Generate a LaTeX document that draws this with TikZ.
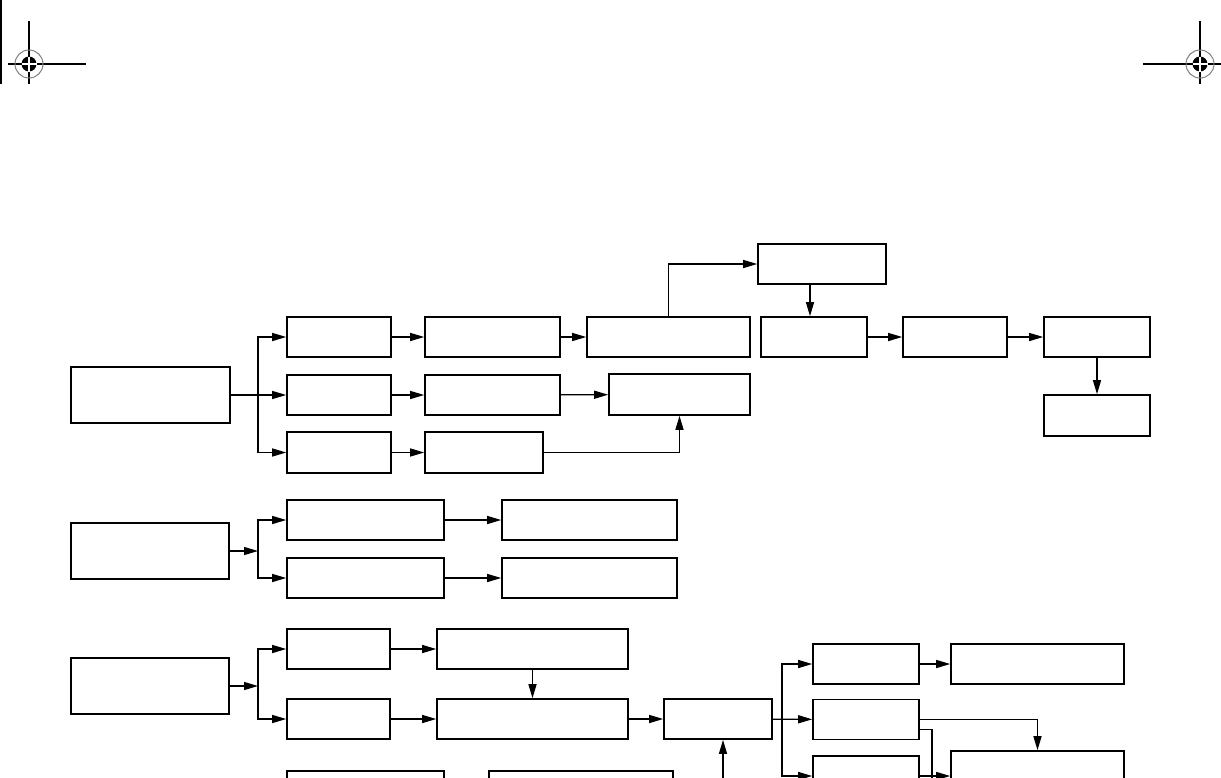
\documentclass[tikz,border=0pt]{standalone}
\usetikzlibrary{arrows.meta}
\begin{document}
\begin{tikzpicture}[x=0.5pt, y=-0.5pt, ->, >={Triangle[length=7pt,width=4pt]}, line width=0.65pt]
        \tikzstyle{block} = [rectangle, draw=black, line width=0.8pt, inner sep=0pt, minimum height=20pt]
        \clip[-] (0,0) rectangle (1221,777);

        % registration marks
        \draw[-] (1,0) -- (1,84);
        \foreach \cx/\dir in {29/1, 1200/-1} {
                \draw[-] (\cx-21*\dir,64) -- (\cx+57*\dir,64) (\cx,21) -- (\cx,84);
                \draw[-, gray, line width=0.5pt] (\cx,64) circle (14);
                \fill (\cx,64) circle (7.5);
                \draw[-, white] (\cx-7.5,64) -- (\cx+7.5,64) (\cx,56.5) -- (\cx,71.5);
        }

        % first group
        \node[block, minimum width=79.5pt, minimum height=28pt] (L1) at (150.5,395) {};
        \node[block, minimum width=64pt] (T) at (822,264) {};
        \node[block, minimum width=52pt] (A1) at (339,337) {};
        \node[block, minimum width=67.5pt] (A2) at (492.5,337) {};
        \node[block, minimum width=81.5pt] (A3) at (668.5,337) {};
        \node[block, minimum width=53pt] (A4) at (814,337) {};
        \node[block, minimum width=52pt] (A5) at (955,337) {};
        \node[block, minimum width=53pt] (A6) at (1097,337) {};
        \node[block, minimum width=53pt, minimum height=20.5pt] (A7) at (1097,415.5) {};
        \node[block, minimum width=52pt] (B1) at (339,395) {};
        \node[block, minimum width=67.5pt] (B2) at (492.5,395) {};
        \node[block, minimum width=70.5pt, minimum height=20.5pt] (B3) at (679.5,394.5) {};
        \node[block, minimum width=52pt, minimum height=20.5pt] (C1) at (339,452.5) {};
        \node[block, minimum width=59pt, minimum height=20.5pt] (C2) at (484,452.5) {};
        \coordinate (br1) at (258,395);
        \coordinate (tdown) at (810,284);

        % second group
        \node[block, minimum width=79pt, minimum height=28pt] (L2) at (150,551) {};
        \node[block, minimum width=78.5pt] (D1) at (365.5,520) {};
        \node[block, minimum width=87.5pt] (D2) at (589.5,520) {};
        \node[block, minimum width=78.5pt] (E1) at (365.5,578) {};
        \node[block, minimum width=87.5pt] (E2) at (589.5,578) {};
        \coordinate (br2) at (258,551);

        % third group
        \node[block, minimum width=79pt, minimum height=28pt] (L3) at (150,686) {};
        \node[block, minimum width=51.5pt] (F1) at (338.5,649) {};
        \node[block, minimum width=95.5pt] (F2) at (532.5,649) {};
        \node[block, minimum width=51.5pt] (G1) at (338.5,719) {};
        \node[block, minimum width=95.5pt] (G2) at (532.5,719) {};
        \node[block, minimum width=54pt] (G3) at (718,719) {};
        \node[block, minimum width=53pt] (J1) at (866,664) {};
        \node[block, minimum width=86.5pt] (J2) at (1037.5,664) {};
        \node[block, minimum width=53pt] (K1) at (866,719.5) {};
        \node[block, minimum width=53pt] (N1) at (866,776) {};
        \node[block, minimum width=86.5pt, minimum height=28pt] (M) at (1037.5,779) {};
        \node[block, minimum width=78.5pt] (H1) at (365.5,791) {};
        \node[block, minimum width=92pt] (H2) at (581,791) {};
        \coordinate (br3) at (258,686);
        \coordinate (br4) at (782,719);
        \coordinate (low1) at (932,800);
        \coordinate (low2) at (723,800);

        \path
                (L1) edge (B1)
                (A1) edge (A2)
                (A2) edge (A3)
                (A4) edge (A5)
                (A5) edge (A6)
                (A6) edge (A7)
                (B1) edge (B2)
                (B2) edge (B3)
                (C1) edge (C2)
                (L2) edge (br2)
                (D1) edge (D2)
                (E1) edge (E2)
                (L3) edge (br3)
                (F1) edge (F2)
                (G1) edge (G2)
                (G2) edge (G3)
                (F2) edge (G2)
                (G3) edge (K1)
                (J1) edge (J2)
                (N1) edge (N1 -| M.west)
                (tdown) edge (tdown |- A4.north)
                (low2) edge (low2 |- G3.south);
        \draw (br1) |- (A1.west);
        \draw (br1) |- (C1.west);
        \draw (A3.north) |- (T.west);
        \draw (C2.east) -| (B3.south);
        \draw (br2) |- (D1.west);
        \draw (br2) |- (E1.west);
        \draw (br3) |- (F1.west);
        \draw (br3) |- (G1.west);
        \draw (br4) |- (J1.west);
        \draw (br4) |- (N1.west);
        \draw (K1.east) -| (M.north);
        \draw[-] ([yshift=-5pt]K1.east) -| (low1);
\end{tikzpicture}
\end{document}
